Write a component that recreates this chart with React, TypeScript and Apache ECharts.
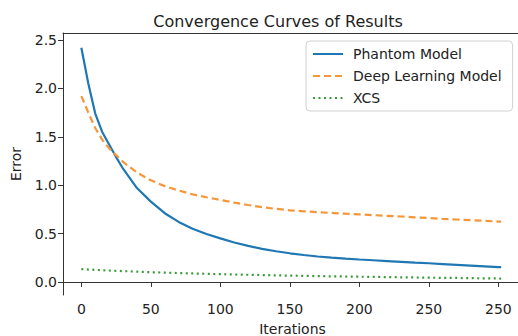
import React, { useEffect, useRef } from "react";
import * as echarts from "echarts";

const iterations = [0, 5, 10, 15, 20, 25, 30, 40, 50, 60, 70, 80, 90, 100, 110, 120, 130, 140, 150, 160, 170, 180, 190, 200, 210, 220, 230, 240, 250, 260, 270, 280, 290, 300, 302];
const phantomModel = [2.42, 2.05, 1.74, 1.55, 1.42, 1.29, 1.17, 0.97, 0.83, 0.71, 0.62, 0.55, 0.495, 0.45, 0.408, 0.372, 0.342, 0.317, 0.296, 0.278, 0.263, 0.251, 0.241, 0.232, 0.224, 0.216, 0.208, 0.2, 0.193, 0.185, 0.177, 0.169, 0.161, 0.153, 0.152];
const deepLearningModel = [1.92, 1.75, 1.59, 1.47, 1.38, 1.31, 1.24, 1.13, 1.05, 0.99, 0.945, 0.905, 0.875, 0.847, 0.82, 0.795, 0.773, 0.755, 0.74, 0.73, 0.72, 0.713, 0.705, 0.698, 0.69, 0.683, 0.676, 0.668, 0.66, 0.652, 0.645, 0.638, 0.631, 0.624, 0.623];
const xcs = [0.132, 0.128, 0.125, 0.121, 0.118, 0.115, 0.112, 0.106, 0.1, 0.096, 0.092, 0.088, 0.084, 0.08, 0.077, 0.074, 0.071, 0.068, 0.065, 0.063, 0.06, 0.058, 0.056, 0.054, 0.052, 0.05, 0.048, 0.046, 0.044, 0.042, 0.041, 0.039, 0.037, 0.036, 0.035];

const xTickValues = [0, 50, 100, 150, 200, 250, 300];
const xTickLabels = ["0", "50", "100", "150", "200", "250", "250"];
const yTickValues = [0, 0.5, 1.0, 1.5, 2.0, 2.5];

const FONT = "DejaVu Sans";

function pairs(ys: number[]) {
  return iterations.map((x, i) => [x, ys[i]]);
}

export default function App() {
  const ref = useRef<HTMLDivElement>(null);
  useEffect(() => {
    if (!ref.current) return;
    const chart = echarts.init(ref.current, null, { renderer: "svg" });
    chart.setOption({
      animation: false,
      backgroundColor: "#ffffff",
      textStyle: { fontFamily: FONT },
      title: {
        text: "Convergence Curves of Results",
        left: 273,
        top: 8,
        textAlign: "center",
        textStyle: { fontFamily: FONT, fontSize: 16, fontWeight: "normal", color: "#222" },
      },
      grid: {
        left: 63,
        right: -4,
        top: 33,
        bottom: 41,
        containLabel: false,
        outerBoundsMode: "none",
        show: false,
      },
      legend: {
        orient: "vertical",
        left: 306,
        top: 41,
        padding: [6, 11, 6, 6],
        itemWidth: 30,
        itemHeight: 14,
        itemGap: 8,
        itemStyle: { opacity: 0 },
        borderColor: "#d0d0d0",
        borderWidth: 1,
        borderRadius: 4,
        backgroundColor: "rgba(255,255,255,0.9)",
        textStyle: { fontFamily: FONT, fontSize: 14, color: "#222", padding: [0, 0, 0, 5] },
        data: ["Phantom Model", "Deep Learning Model", "XCS"],
      },
      xAxis: [
        {
          type: "value",
          min: -13.2,
          max: 317,
          name: "Iterations",
          nameLocation: "middle",
          nameGap: 27,
          nameTextStyle: { fontFamily: FONT, fontSize: 14, color: "#222" },
          axisLine: { show: true, lineStyle: { color: "#333", width: 1 } },
          axisTick: { show: true, inside: false, length: 5, lineStyle: { color: "#333" }, customValues: xTickValues },
          axisLabel: {
            fontFamily: FONT,
            fontSize: 14,
            color: "#222",
            margin: 7,
            customValues: xTickValues,
            formatter: (v: number) => {
              const i = xTickValues.indexOf(v);
              return i >= 0 ? xTickLabels[i] : "";
            },
          },
          splitLine: { show: false },
        },
        {
          type: "value",
          position: "top",
          min: -13.2,
          max: 317,
          axisLine: { show: true, onZero: false, lineStyle: { color: "#333", width: 1 } },
          axisTick: { show: false },
          axisLabel: { show: false },
          splitLine: { show: false },
        },
      ],
      yAxis: {
        type: "value",
        min: -0.135,
        max: 2.572,
        name: "Error",
        nameLocation: "middle",
        nameGap: 40,
        nameRotate: 90,
        nameTextStyle: { fontFamily: FONT, fontSize: 14, color: "#222" },
        axisLine: { show: true, onZero: false, lineStyle: { color: "#333", width: 1 } },
        axisTick: { show: true, inside: false, length: 5, lineStyle: { color: "#333" }, customValues: yTickValues },
        axisLabel: {
          fontFamily: FONT,
          fontSize: 14,
          color: "#222",
          margin: 6,
          customValues: yTickValues,
          formatter: (v: number) => v.toFixed(1),
        },
        splitLine: { show: false },
      },
      series: [
        {
          name: "Phantom Model",
          type: "line",
          data: pairs(phantomModel),
          showSymbol: false,
          symbol: "none",
          color: "#1f77b4",
          lineStyle: { color: "#1f77b4", width: 2.2, type: "solid" },
        },
        {
          name: "Deep Learning Model",
          type: "line",
          data: pairs(deepLearningModel),
          showSymbol: false,
          symbol: "none",
          color: "#ff7f0e",
          lineStyle: { color: "#f6963a", width: 2.2, type: [7, 4] },
        },
        {
          name: "XCS",
          type: "line",
          data: pairs(xcs),
          showSymbol: false,
          symbol: "none",
          color: "#2ca02c",
          lineStyle: { color: "#3a9a3a", width: 2.2, type: [2, 3.5] },
        },
      ],
    });
    return () => chart.dispose();
  }, []);
  return <div ref={ref} style={{ width: 518, height: 336, position: "absolute", left: 0, top: 0 }} />;
}
